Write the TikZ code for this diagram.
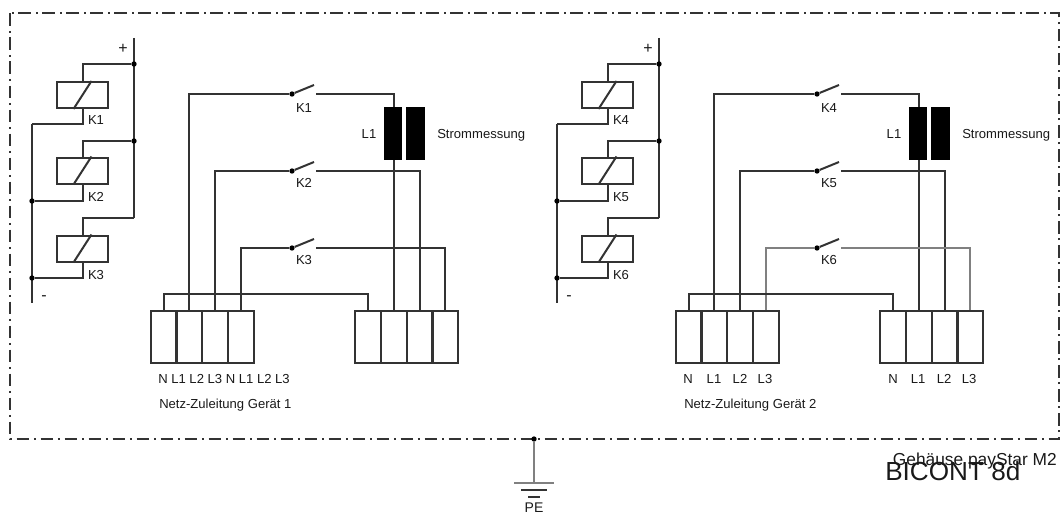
\documentclass[tikz,border=0pt]{standalone}
\usepackage{fontspec}
\setmainfont{Liberation Sans}
\usetikzlibrary{calc}
\definecolor{wirecol}{gray}{0.2}
\definecolor{greywire}{gray}{0.5}
\tikzset{
	wire/.style={draw=wirecol, line width=1.5pt},
	relais/.style={wire, rectangle, fill=white, inner sep=0pt, minimum width=38.25pt, minimum height=19.5pt},
	klemme/.style={wire, rectangle, inner sep=0pt, minimum width=19.5pt, minimum height=39pt},
	spule/.style={rectangle, fill=black, inner sep=0pt, minimum width=14pt, minimum height=40pt},
	punkt/.style={circle, fill=black, inner sep=0pt, minimum size=4pt},
	lbl/.style={font=\fontsize{9.8pt}{12pt}\selectfont, text=black!90, inner sep=0pt},
}

\begin{document}
\begin{tikzpicture}[x=0.75pt, y=-0.75pt]
	\useasboundingbox (0,0) rectangle (1062,517);

	% housing
	\draw[wirecol, line width=1.5pt, dash pattern=on 9.5pt off 3.5pt on 1.5pt off 3.5pt] (10,13.5) rectangle (1059,439);

	\foreach \g/\startx/\ka/\kb/\kc/\kcol in {a/0/K1/K2/K3/wirecol, b/525/K4/K5/K6/greywire} {
		% supply rails
		\coordinate (plus\g) at (\startx+134,38);
		\coordinate (plusend\g) at (\startx+134,218);
		\coordinate (minus\g) at (\startx+32,124);
		\coordinate (minusend\g) at (\startx+32,303);
		\draw[wire] (plus\g) -- (plusend\g);
		\draw[wire] (minus\g) -- (minusend\g);
		\node[lbl, font=\fontsize{12pt}{12pt}\selectfont] (plustxt\g) at (\startx+123,49) {+};
		\node[lbl, font=\fontsize{12pt}{12pt}\selectfont] (minustxt\g) at (\startx+44,298) {-};

		% relay coils
		\node[relais] (rel1\g) at (\startx+82.5,95) {};
		\node[relais] (rel2\g) at (\startx+82.5,170.5) {};
		\node[relais] (rel3\g) at (\startx+82.5,248.5) {};
		\node[punkt] (p1\g) at (\startx+134,64) {};
		\node[punkt] (p2\g) at (\startx+134,141) {};
		\node[punkt] (m2\g) at (\startx+32,201) {};
		\node[punkt] (m3\g) at (\startx+32,278) {};
		\draw[wire] (p1\g) -| (rel1\g.north);
		\draw[wire] (p2\g) -| (rel2\g.north);
		\draw[wire] (plusend\g) -| (rel3\g.north);
		\draw[wire] (minus\g) -| (rel1\g.south);
		\draw[wire] (m2\g) -| (rel2\g.south);
		\draw[wire] (m3\g) -| (rel3\g.south);
		\foreach \r in {1,2,3} {
			\draw[wire] ($(rel\r\g.south)+(-9,0)$) -- ($(rel\r\g.north)+(9,0)$);
		}
		\node[lbl] (t1\g) at (\startx+96,120) {\ka};
		\node[lbl] (t2\g) at (\startx+96,197) {\kb};
		\node[lbl] (t3\g) at (\startx+96,275) {\kc};

		% terminal blocks
		\foreach \i/\x in {1/164,2/189,3/215,4/241,5/368,6/394,7/420,8/445} {
			\node[klemme] (kl\i\g) at (\startx+\x,337) {};
		}

		% contacts
		\node[punkt] (s1\g) at (\startx+292,94) {};
		\node[punkt] (s2\g) at (\startx+292,171) {};
		\node[punkt] (s3\g) at (\startx+292,248) {};
		\coordinate (e1\g) at (\startx+316,94);
		\coordinate (e2\g) at (\startx+316,171);
		\coordinate (e3\g) at (\startx+316,248);
		\coordinate (n\g) at (\startx+260,294);
		\draw[wire] (kl2\g.north) |- (s1\g);
		\draw[wire] (kl3\g.north) |- (s2\g);
		\draw[wire, draw=\kcol] (kl4\g.north) |- (s3\g);
		\draw[wire] (e1\g) -| (kl6\g.north);
		\draw[wire] (e2\g) -| (kl7\g.north);
		\draw[wire, draw=\kcol] (e3\g) -| (kl8\g.north);
		\draw[wire] (kl1\g.north) |- (n\g) -| (kl5\g.north);
		\foreach \r in {1,2,3} {
			\draw[wire] (s\r\g) -- ++(22,-9);
		}
		\node[lbl] (k1\g) at (\startx+304,108) {\ka};
		\node[lbl] (k2\g) at (\startx+304,183) {\kb};
		\node[lbl] (k3\g) at (\startx+304,260) {\kc};

		% current transformer
		\node[spule] (sp1\g) at (\startx+393,133.5) {};
		\node[spule] (sp2\g) at (\startx+415.5,133.5) {};
		\node[lbl] (l1\g) at (\startx+369,134) {L1};
		\node[lbl, anchor=west] (strom\g) at (\startx+437,135) {Strommessung};
	}

	% terminal texts
	\node[lbl, anchor=west] (txta) at (158,379) {N L1 L2 L3 N L1 L2 L3};
	\node[lbl, anchor=west] (neta) at (159,405) {Netz-Zuleitung Gerät 1};
	\foreach \t/\x in {N/688,L1/714,L2/740,L3/765,N/893,L1/918,L2/944,L3/969} {
		\node[lbl] (txt\x) at (\x,379) {\t};
	}
	\node[lbl, anchor=west] (netb) at (684,405) {Netz-Zuleitung Gerät 2};

	% earth
	\node[punkt] (pe) at (534,439) {};
	\coordinate (erde) at (534,483);
	\draw[wire, draw=greywire] (pe) -- (erde);
	\draw[wire, draw=greywire] ($(erde)+(-20,0)$) -- ($(erde)+(20,0)$);
	\draw[wire] (521,490) -- (547,490);
	\draw[wire] (528,497) -- (540,497);
	\node[lbl, font=\fontsize{10.5pt}{12pt}\selectfont] (petxt) at (534,508) {PE};

	\node[lbl, anchor=east, font=\fontsize{13pt}{14pt}\selectfont] (geh) at (1057,461) {Gehäuse payStar M2};
	\node[lbl, anchor=west, font=\fontsize{19.6pt}{20pt}\selectfont] (bicont) at (885,471) {BICONT 8d};
\end{tikzpicture}
\end{document}
